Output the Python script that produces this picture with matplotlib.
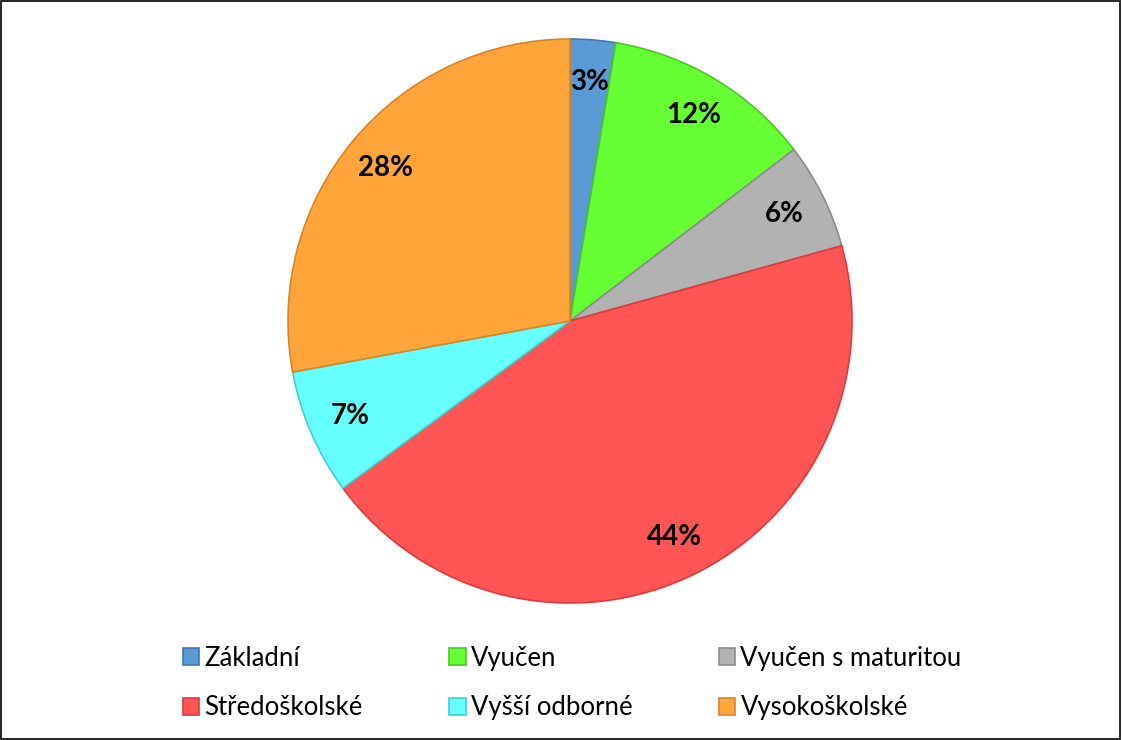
import matplotlib.pyplot as plt
from matplotlib.patches import Rectangle

# data (percent of respondents)
labels = ["Základní", "Vyučen", "Vyučen s maturitou",
          "Středoškolské", "Vyšší odborné", "Vysokoškolské"]
values = [2.6, 12.0, 6.1, 44.2, 7.2, 27.9]
colors = ["#5B9BD5", "#66FF33", "#B2B2B2", "#FF5555", "#66FFFF", "#FFA53A"]
edges = ["#3F78B0", "#4CC825", "#8C8C8C", "#D93C3C", "#3FCFCF", "#D98526"]

plt.rcParams["font.family"] = ["Lato", "DejaVu Sans"]

fig = plt.figure(figsize=(11.22, 7.4), dpi=100)
ax = fig.add_axes([288 / 1122, 137 / 740, 564 / 1122, 564 / 740])

wedges, texts, autotexts = ax.pie(
    values, colors=colors, startangle=90, counterclock=False,
    autopct="%.0f%%", pctdistance=0.85,
    wedgeprops=dict(linewidth=1.2),
    textprops=dict(fontsize=20, fontweight="bold", color="black"))
for w, ec in zip(wedges, edges):
    w.set_edgecolor(ec)
ax.set_xlim(-1.0, 1.0)
ax.set_ylim(-1.0, 1.0)
ax.set_aspect("equal")

# legend fills column by column, so reorder to read row by row
order = [0, 3, 1, 4, 2, 5]
leg = fig.legend([wedges[i] for i in order], [labels[i] for i in order],
                 ncol=3, loc="center", bbox_to_anchor=(0.51, 0.077),
                 frameon=False, fontsize=18.5, handlelength=0.65,
                 handleheight=0.65, handletextpad=0.2, columnspacing=3.35,
                 labelspacing=0.95)

# chart border
fig.patches.append(Rectangle((0.001, 0.001), 0.997, 0.997, transform=fig.transFigure,
                             fill=False, edgecolor="black", linewidth=1.2))

fig.savefig("out.png", dpi=100)
